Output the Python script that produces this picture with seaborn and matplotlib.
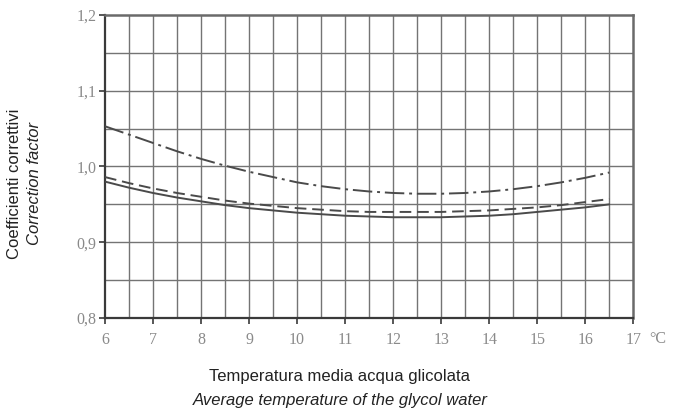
import matplotlib
matplotlib.use("Agg")
import matplotlib.pyplot as plt
import numpy as np
import pandas as pd
import seaborn as sns

# Mean glycol water temperature (°C)
temperature = [6.0, 6.5, 7.0, 7.5, 8.0, 8.5, 9.0, 9.5, 10.0, 10.5, 11.0,
               11.5, 12.0, 12.5, 13.0, 13.5, 14.0, 14.5, 15.0, 15.5, 16.0, 16.5]

# Correction factors for the three curves
factor_dashdot = [1.053, 1.042, 1.031, 1.020, 1.010, 1.001, 0.993, 0.986, 0.979, 0.974, 0.970,
                  0.967, 0.965, 0.964, 0.964, 0.965, 0.967, 0.970, 0.974, 0.979, 0.985, 0.992]
factor_dashed = [0.986, 0.978, 0.971, 0.965, 0.960, 0.955, 0.951, 0.948, 0.945, 0.943, 0.941,
                 0.940, 0.940, 0.940, 0.940, 0.941, 0.942, 0.944, 0.946, 0.949, 0.953, 0.957]
factor_solid = [0.980, 0.972, 0.965, 0.959, 0.954, 0.949, 0.945, 0.942, 0.939, 0.937, 0.935,
                0.934, 0.933, 0.933, 0.933, 0.934, 0.935, 0.937, 0.940, 0.943, 0.946, 0.950]

x_ticks = [6, 7, 8, 9, 10, 11, 12, 13, 14, 15, 16, 17]
x_tick_labels = ["6", "7", "8", "9", "10", "11", "12", "13", "14", "15", "16", "17"]
y_ticks = [0.8, 0.9, 1.0, 1.1, 1.2]
y_tick_labels = ["0,8", "0,9", "1,0", "1,1", "1,2"]

sns.set_theme(style="white")
plt.rcParams["font.family"] = ["Liberation Sans", "DejaVu Sans"]

fig = plt.figure(figsize=(6.73, 4.12), dpi=100)
ax = fig.add_axes([0.156, 0.228, 0.785, 0.736])

line_color = "#4a4a4a"
curves = [
    (factor_dashdot, (0, (10, 2.5, 1.5, 2.5))),
    (factor_dashed, (0, (6, 3))),
    (factor_solid, "-"),
]
for values, style in curves:
    df = pd.DataFrame({"t": temperature, "f": values})
    sns.lineplot(data=df, x="t", y="f", ax=ax, color=line_color,
                 linewidth=1.4, linestyle=style, zorder=3)

ax.set_xlim(6, 17)
ax.set_ylim(0.8, 1.2)

# Grid: every 0.5 °C and every 0.05 of the factor
for xv in np.arange(6.5, 17, 0.5):
    ax.axvline(xv, color="#747474", linewidth=1.0, zorder=1)
for yv in np.arange(0.85, 1.2, 0.05):
    ax.axhline(yv, color="#747474", linewidth=1.0, zorder=1)

for side in ["left", "bottom"]:
    ax.spines[side].set_color("#3a3a3a")
    ax.spines[side].set_linewidth(1.6)
for side in ["top", "right"]:
    ax.spines[side].set_color("#6a6a6a")
    ax.spines[side].set_linewidth(1.8)

ax.set_xticks(x_ticks)
ax.set_xticklabels(x_tick_labels)
ax.set_yticks(y_ticks)
ax.set_yticklabels(y_tick_labels)
ax.tick_params(axis="both", which="both", direction="out", length=4, width=1.2,
               color="#3a3a3a", labelcolor="#8a8a8a", labelsize=11.5)
ax.tick_params(axis="x", pad=6, bottom=True)
ax.tick_params(axis="y", pad=2, left=True)
for lab in ax.get_xticklabels() + ax.get_yticklabels():
    lab.set_family(["Liberation Serif", "DejaVu Serif"])

ax.set_xlabel("")
ax.set_ylabel("")

fig.text(0.978, 0.178, "°C", ha="center", va="center", color="#8a8a8a",
         fontsize=11.5, family=["Liberation Serif", "DejaVu Serif"])

fig.text(0.505, 0.085, "Temperatura media acqua glicolata", ha="center", va="center",
         color="#222222", fontsize=12)
fig.text(0.505, 0.028, "Average temperature of the glycol water", ha="center", va="center",
         color="#222222", fontsize=12, style="italic")

fig.text(0.022, 0.555, "Coefficienti correttivi", ha="center", va="center",
         rotation=90, color="#222222", fontsize=12)
fig.text(0.051, 0.555, "Correction factor", ha="center", va="center",
         rotation=90, color="#222222", fontsize=12, style="italic")

fig.savefig("out.png", dpi=100)
